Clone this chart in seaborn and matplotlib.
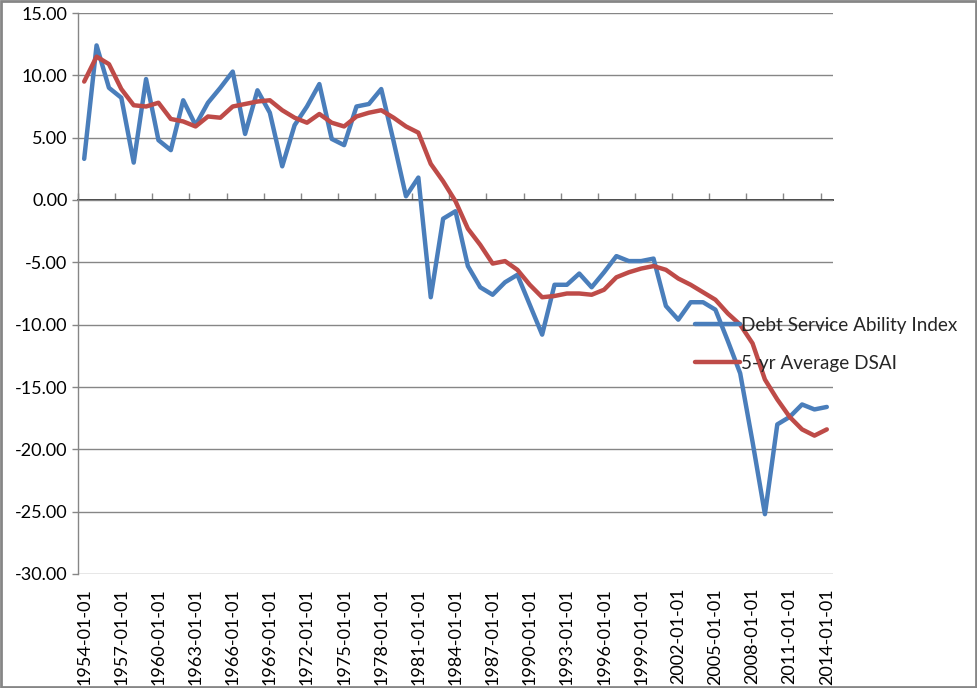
import matplotlib
matplotlib.use("Agg")
import matplotlib.pyplot as plt
import seaborn as sns
import pandas as pd
import numpy as np
from matplotlib.patches import Rectangle
from matplotlib.lines import Line2D

years = list(range(1954, 2015))
dates = [f"{y}-01-01" for y in years]

dsai = [3.3, 12.4, 9.0, 8.2, 3.0, 9.7, 4.8, 4.0, 8.0, 6.0,
        7.8, 9.0, 10.3, 5.3, 8.8, 7.0, 2.7, 6.0, 7.5, 9.3,
        4.9, 4.4, 7.5, 7.7, 8.9, 4.7, 0.3, 1.8, -7.8, -1.5,
        -0.9, -5.3, -7.0, -7.6, -6.6, -6.0, -8.4, -10.8, -6.8, -6.8,
        -5.9, -7.0, -5.8, -4.5, -4.9, -4.9, -4.7, -8.5, -9.6, -8.2,
        -8.2, -8.8, -11.3, -13.9, -19.4, -25.2, -18.0, -17.4, -16.4, -16.8,
        -16.6]

avg5 = [9.5, 11.5, 10.9, 8.9, 7.6, 7.5, 7.8, 6.5, 6.3, 5.9,
        6.7, 6.6, 7.5, 7.7, 7.9, 8.0, 7.2, 6.6, 6.2, 6.9,
        6.2, 5.9, 6.7, 7.0, 7.2, 6.6, 5.9, 5.4, 2.9, 1.5,
        -0.1, -2.3, -3.6, -5.1, -4.9, -5.6, -6.8, -7.8, -7.7, -7.5,
        -7.5, -7.6, -7.2, -6.2, -5.8, -5.5, -5.3, -5.6, -6.3, -6.8,
        -7.4, -8.0, -9.1, -10.0, -11.5, -14.4, -16.0, -17.4, -18.4, -18.9,
        -18.4]

series_names = ["Debt Service Ability Index", "5-yr Average DSAI"]
colors = ["#4A7EBB", "#BE4B48"]

df = pd.DataFrame({
    "idx": list(range(len(dates))) * 2,
    "value": dsai + avg5,
    "series": [series_names[0]] * len(dates) + [series_names[1]] * len(dates),
})

sns.set_theme(style="white")
plt.rcParams["font.family"] = ["Lato", "DejaVu Sans"]
plt.rcParams["axes.unicode_minus"] = False

fig = plt.figure(figsize=(9.78, 6.88), dpi=100)
ax = fig.add_axes([78 / 978, 1 - 574 / 688, (833 - 78) / 978, (574 - 13) / 688])

sns.lineplot(data=df, x="idx", y="value", hue="series", palette=colors,
             linewidth=3.2, ax=ax, legend=False, zorder=3)

grid_c = "#868686"
ax.set_xlim(-0.5, len(dates) - 0.5)
ax.set_ylim(-30, 15)
yt = np.arange(-30, 16, 5)
ax.set_yticks(yt)
ax.set_yticklabels([f"{v:.2f}" for v in yt])
ax.yaxis.grid(True, color=grid_c, linewidth=1)
ax.xaxis.grid(False)
for s in ["top", "right", "bottom"]:
    ax.spines[s].set_visible(False)
ax.spines["left"].set_color(grid_c)
ax.spines["left"].set_linewidth(1)
ax.tick_params(axis="y", length=4.5, width=1, color=grid_c, pad=3, labelsize=13,
               labelcolor="black", left=True)

lab_pos = list(range(0, len(dates), 3))
ax.set_xticks(lab_pos)
ax.set_xticklabels([dates[i] for i in lab_pos], rotation=90)
ax.tick_params(axis="x", length=0, pad=10, labelsize=13, labelcolor="black", bottom=True)
ax.set_xlabel("")
ax.set_ylabel("")

# zero-line category axis with tick marks between categories
sec = ax.secondary_xaxis(30 / 45)
sec.set_xticks([-0.5 + 3 * k for k in range(0, 21)])
sec.set_xticklabels([])
sec.tick_params(axis="x", length=5, width=1, color=grid_c, direction="out")
sec.spines["bottom"].set_color(grid_c)
sec.spines["bottom"].set_linewidth(1)

handles = [Line2D([0], [0], color=c, lw=3.2) for c in colors]
fig.legend(handles, series_names, loc="upper left",
           bbox_to_anchor=(695 / 978, 1 - 317 / 688), frameon=False,
           fontsize=13.6, handlelength=2.4, handletextpad=0.05, labelspacing=1.1,
           borderaxespad=0, borderpad=0)

fig.patches.append(Rectangle((0.001, 0.001), 0.997, 0.997, transform=fig.transFigure,
                             fill=False, edgecolor="#868686", linewidth=2))

fig.savefig("out.png", dpi=100)
